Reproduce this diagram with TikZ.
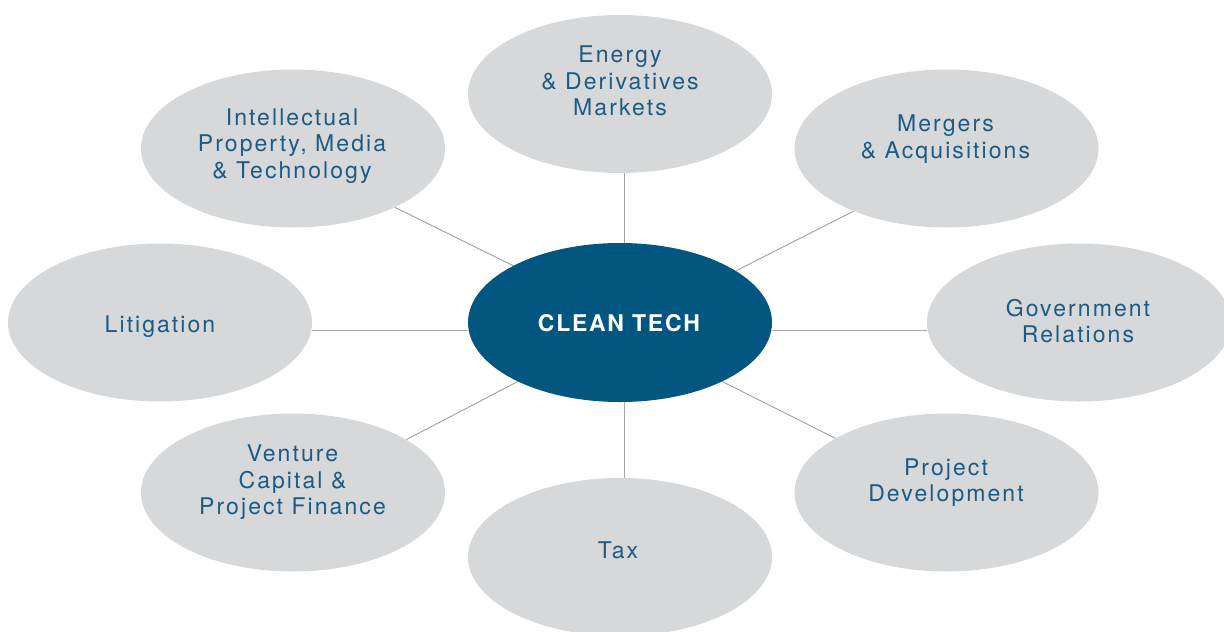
\documentclass[tikz,border=0pt]{standalone}
\usepackage{fontspec}
\setmainfont{TeX Gyre Heros}[LetterSpace=9]
\newfontfamily\hubfont{TeX Gyre Heros}[LetterSpace=7.5]
\usetikzlibrary{shapes.geometric,backgrounds}
\definecolor{ovalgray}{HTML}{D7D8DA}
\definecolor{hubblue}{HTML}{02567F}
\definecolor{txtblue}{HTML}{1B5B84}
\definecolor{linkgray}{HTML}{A6A6A6}
\begin{document}
\begin{tikzpicture}[x=1pt,y=-1pt,
  oval/.style={ellipse, fill=ovalgray, minimum width=304pt, minimum height=158pt, inner sep=0pt, outer sep=0pt},
  hubnode/.style={oval, fill=hubblue, minimum height=159pt},
  lbl/.style={text=txtblue, font=\fontsize{23pt}{26.5pt}\selectfont, align=center, inner sep=0pt},
  hublbl/.style={text=white, font=\hubfont\fontsize{23pt}{26.5pt}\selectfont\bfseries, inner sep=0pt},
  link/.style={draw=linkgray, line width=1pt}]
\useasboundingbox (0,0) rectangle (1224,632);
% ovals
\node[oval] (energy) at (620,94) {};
\node[oval] (merg) at (946.5,148.5) {};
\node[oval] (gov) at (1079,322.5) {};
\node[oval] (pdev) at (946.5,492.5) {};
\node[oval] (tax) at (620,557) {};
\node[oval] (vc) at (293,492.5) {};
\node[oval] (lit) at (160,322.5) {};
\node[oval] (ip) at (293,148.5) {};
\node[hubnode] (ct) at (620,322.5) {};
% connectors
\begin{scope}[on background layer]
\draw[link] (ct.152.8) -- (ip.330.2);
\draw[link] (ct.24.1) -- (merg.214.2);
\draw[link] (ct.210.7) -- (vc.25.1);
\draw[link] (ct.330.4) -- (pdev.154.8);
\draw[link] ([yshift=-7.5pt]ct.west) -- ([yshift=-7.5pt]lit.east);
\draw[link] ([yshift=-7.5pt]ct.east) -- ([yshift=-7.5pt]gov.west);
\draw[link] ([xshift=4pt]ct.north) -- ([xshift=4pt]energy.south);
\draw[link] ([xshift=4pt]ct.south) -- ([xshift=4pt]tax.north);
\end{scope}
% labels
\node[hublbl] (t-ct) at (619,323.5) {CLEAN TECH};
\node[lbl] (t-energy) at (620,81) {Energy\\\& Derivatives\\Markets};
\node[lbl] (t-merg) at (945.5,139) {Mergers\\\& Acquisitions};
\node[lbl] (t-gov) at (1078,321) {Government\\Relations};
\node[lbl] (t-pdev) at (946,482.5) {Project\\Development};
\node[lbl] (t-tax) at (618,550.5) {Tax};
\node[lbl] (t-vc) at (292.5,482.5) {Venture\\Capital \&\\Project Finance};
\node[lbl] (t-lit) at (160,327) {Litigation};
\node[lbl] (t-ip) at (292,146) {Intellectual\\Property, Media\\\& Technology};
\end{tikzpicture}
\end{document}
